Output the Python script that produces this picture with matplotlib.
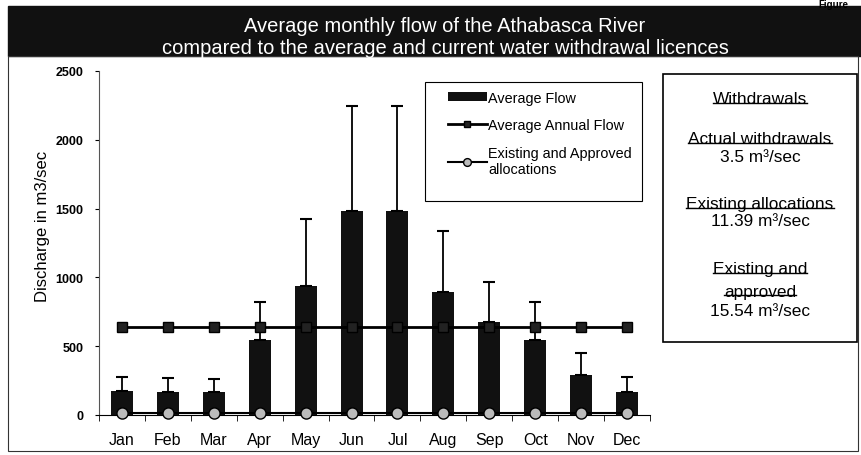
import matplotlib
matplotlib.use("Agg")
import matplotlib.pyplot as plt
import numpy as np
from matplotlib.patches import Rectangle
from matplotlib.lines import Line2D

# donnees
mois = ["Jan", "Feb", "Mar", "Apr", "May", "Jun", "Jul", "Aug", "Sep", "Oct", "Nov", "Dec"]
debitMoyen = [172, 168, 165, 545, 937, 1483, 1483, 894, 675, 545, 290, 167]
erreurHaut = [104, 102, 100, 275, 487, 762, 762, 443, 292, 275, 160, 109]
debitAnnuel = [640] * 12
allocations = [15.54] * 12

plt.rcParams["font.family"] = ["Liberation Sans", "DejaVu Sans"]

fig = plt.figure(figsize=(8.62, 4.56), dpi=100)
W, H = 862.0, 456.0

def fx(px):
    return px / W

def fy(py):
    return 1 - py / H

# bandeau noir du titre
fig.patches.append(Rectangle((fx(8), fy(57)), fx(862) - fx(8), fy(7) - fy(57),
                             transform=fig.transFigure, color="#111111", zorder=0))
fig.text(fx(445), fy(27), "Average monthly flow of the Athabasca River", color="white",
         ha="center", va="center", fontsize=14.5)
fig.text(fx(445), fy(48), "compared to the average and current water withdrawal licences", color="white",
         ha="center", va="center", fontsize=14.5)
fig.text(fx(818), fy(0), "Figure", ha="left", va="top", fontsize=7, fontweight="bold")

# cadre general
fig.patches.append(Rectangle((fx(8), fy(452)), fx(858) - fx(8), fy(57) - fy(452),
                             transform=fig.transFigure, fill=False, edgecolor="#333333",
                             linewidth=0.8, zorder=0))

ax = fig.add_axes([fx(99), fy(416), fx(650) - fx(99), fy(72) - fy(416)])
x = np.arange(len(mois))
barres = ax.bar(x, debitMoyen, width=0.48, color="#111111", zorder=2)
ax.errorbar(x, debitMoyen, yerr=[np.zeros(len(mois)), erreurHaut], fmt="none",
            ecolor="black", elinewidth=1.3, capsize=4.5, capthick=1.5, zorder=3)
ligneAnnuel, = ax.plot(x, debitAnnuel, color="black", linewidth=2, marker="s", markersize=7,
                       markerfacecolor="#222222", zorder=4)
ligneAlloc, = ax.plot(x, allocations, color="black", linewidth=1.5, marker="o", markersize=8,
                      markerfacecolor="#bbbbbb", markeredgecolor="black", zorder=5, clip_on=False)

ax.set_xlim(-0.5, 11.5)
ax.set_ylim(0, 2500)
ax.set_yticks([0, 500, 1000, 1500, 2000, 2500])
ax.set_xticks(x)
ax.set_xticklabels(mois, fontsize=11.5)
ax.set_xticks(np.arange(-0.5, 12, 1), minor=True)
ax.tick_params(axis="x", which="major", length=0, pad=12)
ax.tick_params(axis="x", which="minor", length=4, direction="out")
ax.tick_params(axis="y", labelsize=9, length=3, pad=8)
for lab in ax.get_yticklabels():
    lab.set_fontweight("bold")
ax.spines["top"].set_visible(False)
ax.spines["right"].set_visible(False)
ax.spines["left"].set_color("#555555")
ax.set_ylabel("Discharge in m3/sec", fontsize=12)
ax.yaxis.set_label_coords(-0.089, 0.55)

# legende avec cadre dessine a part
fig.patches.append(Rectangle((fx(425), fy(202)), fx(642) - fx(425), fy(83) - fy(202),
                             transform=fig.transFigure, fill=False, edgecolor="black",
                             linewidth=0.8))
leg = fig.legend([barres, ligneAnnuel, ligneAlloc],
                 ["Average Flow", "Average Annual Flow", "Existing and Approved\nallocations"],
                 loc="upper left", bbox_to_anchor=(fx(436), fy(80)), fontsize=10.4,
                 frameon=False, labelspacing=0.95, handlelength=2.7, handleheight=0.6,
                 borderpad=0.3, handletextpad=0.1, markerscale=0.7)

# encadre des prelevements
fig.patches.append(Rectangle((fx(663), fy(343)), fx(857) - fx(663), fy(75) - fy(343),
                             transform=fig.transFigure, fill=False, edgecolor="black",
                             linewidth=1.2))
lignes = [
    ("Withdrawals", 100, True),
    ("Actual withdrawals", 140, True),
    ("3.5 m³/sec", 157, False),
    ("Existing allocations", 205, True),
    ("11.39 m³/sec", 222, False),
    ("Existing and", 270, True),
    ("approved", 292, True),
    ("15.54 m³/sec", 312, False),
]
textes = []
for txt, py, souligne in lignes:
    t = fig.text(fx(760), fy(py), txt, ha="center", va="center", fontsize=12.4)
    textes.append((t, souligne))

fig.canvas.draw()
rend = fig.canvas.get_renderer()
for t, souligne in textes:
    if souligne:
        bb = t.get_window_extent(rend).transformed(fig.transFigure.inverted())
        fig.lines.append(Line2D([bb.x0, bb.x1], [bb.y0 + 0.008, bb.y0 + 0.008],
                                transform=fig.transFigure, color="black", linewidth=1))

fig.savefig("out.png", dpi=100)
